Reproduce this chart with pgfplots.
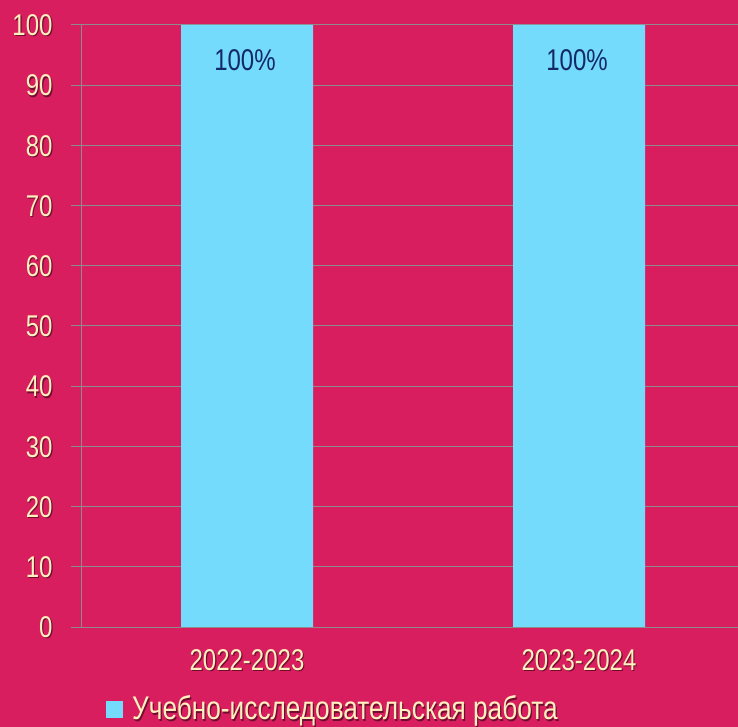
\documentclass[border=0pt]{standalone}
\usepackage{pgfplots}
\pgfplotsset{compat=1.18}
\usepackage{fontspec}
\setmainfont{Liberation Sans}[FakeStretch=0.8]
\definecolor{bg}{HTML}{D81E5E}
\definecolor{barc}{HTML}{75DBFC}
\definecolor{cream}{HTML}{FFF0C0}
\definecolor{navy}{HTML}{14296A}
\definecolor{gridc}{HTML}{8C8C8C}
\definecolor{shad}{HTML}{6E0E2E}
\newcommand\sh[1]{\rlap{\kern1.2bp\raisebox{-1.2bp}{\textcolor{shad}{#1}}}\textcolor{cream}{#1}}
\begin{document}
\begin{tikzpicture}
\useasboundingbox (0,0) rectangle (738bp,727bp);
\fill[bg] (0,0) rectangle (738bp,727bp);
\clip (0,0) rectangle (738bp,727bp);
\begin{axis}[
  /pgf/number format/assume math mode=true,
  at={(81bp,100bp)}, anchor=south west,
  scale only axis, width=664bp, height=602bp,
  xmin=-0.5, xmax=1.5, ymin=0, ymax=100,
  ytick={0,10,...,100},
  xtick={0,1},
  ybar, bar width=132bp, bar shift=0pt,
  axis line style={draw=gridc, line width=1bp},
  ymajorgrids, grid style={gridc, line width=1bp},
  tick style={draw=gridc, line width=1bp},
  tick align=outside, major tick length=10bp,
  x tick style={draw=none},
  font=\fontsize{30bp}{32bp}\selectfont,
  yticklabel={\sh{\pgfmathprintnumber{\tick}}},
  yticklabel style={xshift=-15bp, yshift=-1bp},
  xticklabel style={yshift=-9bp},
  xticklabels={\sh{2022-2023},\sh{2023-2024}},
  nodes near coords={\pgfmathprintnumber{\pgfplotspointmeta}\%},
  nodes near coords style={anchor=north, yshift=-21bp, xshift=-2bp, text=navy, font=\fontsize{30bp}{32bp}\selectfont},
  legend style={at={(0.0377,-0.157)}, anchor=south west, draw=none, fill=none,
    font=\fontsize{32.8bp}{34bp}\selectfont, inner sep=0pt, text=cream,
    column sep=9bp, nodes={inner sep=0pt}},
  legend cell align=left,
]
\addplot[fill=barc, draw=none, legend image code/.code={\fill[barc] (0bp,-9bp) rectangle (17bp,8bp);}] coordinates {(0,100) (1,100)};
\addlegendentry{\sh{Учебно-исследовательская работа}}
\end{axis}
\end{tikzpicture}
\end{document}
